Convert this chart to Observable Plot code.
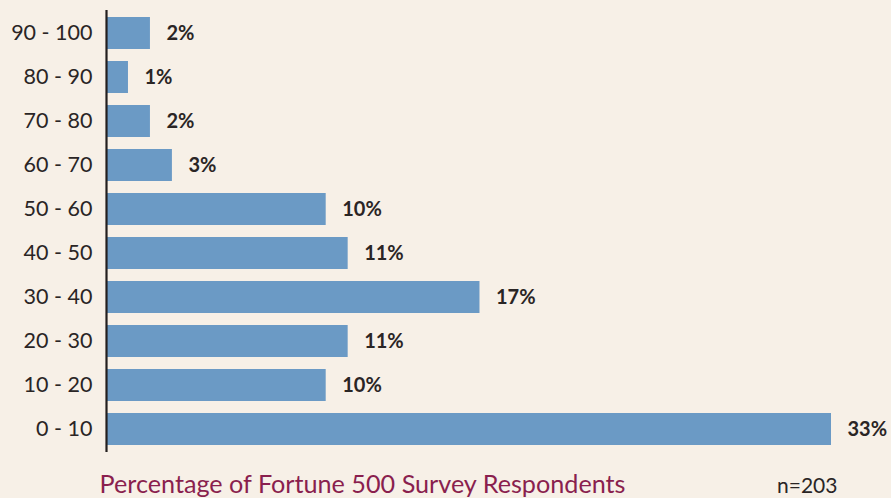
<!DOCTYPE html>
<html>
<head>
<meta charset="utf-8">
<script src="https://cdn.jsdelivr.net/npm/d3@7"></script>
<script src="https://cdn.jsdelivr.net/npm/@observablehq/plot@0.6"></script>
<style>
  html, body { margin: 0; padding: 0; background: #f7f0e7; }
  #chart svg { display: block; }
</style>
</head>
<body>
<div id="chart"></div>
<script>
const categories = ["90 - 100", "80 - 90", "70 - 80", "60 - 70", "50 - 60", "40 - 50", "30 - 40", "20 - 30", "10 - 20", "0 - 10"];
const values = [2, 1, 2, 3, 10, 11, 17, 11, 10, 33];
const valueLabels = ["2%", "1%", "2%", "3%", "10%", "11%", "17%", "11%", "10%", "33%"];
const title = "Percentage of Fortune 500 Survey Respondents";
const note = "n=203";

const data = categories.map((c, i) => ({cat: c, value: values[i], label: valueLabels[i]}));

const chart = Plot.plot({
  width: 891,
  height: 498,
  marginLeft: 106,
  marginRight: 60,
  marginTop: 10,
  marginBottom: 46,
  style: {background: "#f7f0e7", fontFamily: "Lato, 'Noto Sans', sans-serif", color: "#2a2525"},
  x: {domain: [0, 33], axis: null},
  y: {domain: categories, paddingInner: 0.27, paddingOuter: 0.135, label: null},
  marks: [
    Plot.axisY({tickSize: 0, tickPadding: 14, fontSize: 21.5, label: null, fill: "#2a2525"}),
    Plot.barX(data, {x: "value", y: "cat", fill: "#6b9ac5"}),
    Plot.text(data, {x: "value", y: "cat", text: "label", textAnchor: "start", dx: 16, fontSize: 20, fontWeight: "bold", fill: "#2a2525"}),
    Plot.ruleX([0], {stroke: "#231f1f", strokeWidth: 2.2}),
    Plot.text([title], {frameAnchor: "bottom-left", text: d => d, dx: -7, dy: 40, fontSize: 25.2, fill: "#8a1f4e", textAnchor: "start", lineAnchor: "bottom"}),
    Plot.text([note], {frameAnchor: "bottom-right", text: d => d, dx: 6, dy: 40, fontSize: 21, fill: "#2a2525", textAnchor: "end", lineAnchor: "bottom"})
  ]
});
document.getElementById("chart").appendChild(chart);
</script>
</body>
</html>
